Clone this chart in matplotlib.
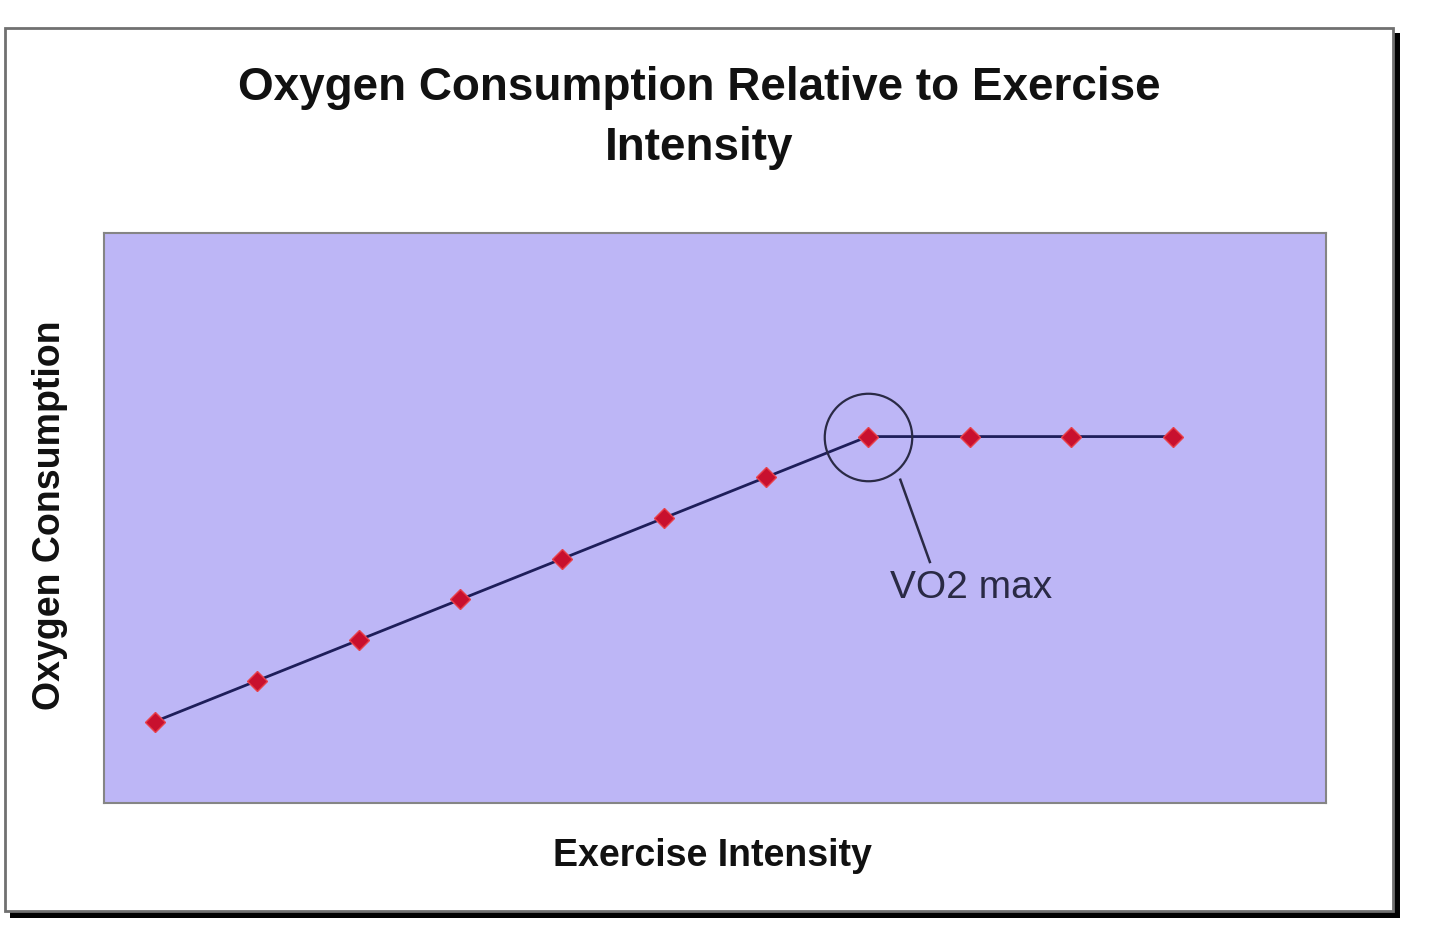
import matplotlib
matplotlib.use("Agg")
import matplotlib.pyplot as plt
from matplotlib.patches import Rectangle

# exercise intensity steps (category axis, 12 slots, 11 points)
intensity = [1, 2, 3, 4, 5, 6, 7, 8, 9, 10, 11]
oxygen = [10, 15, 20, 25, 30, 35, 40, 45, 45, 45, 45]
vo2_index = 7

title = "Oxygen Consumption Relative to Exercise\nIntensity"
xlabel = "Exercise Intensity"
ylabel = "Oxygen Consumption"

plt.rcParams["font.family"] = ["Liberation Sans", "DejaVu Sans"]

W, H = 1440, 944
fig = plt.figure(figsize=(W / 100, H / 100), dpi=100)


def px_rect(x0, y0, x1, y1, **kw):
    # rectangle given in pixel coords (origin top-left)
    return Rectangle((x0 / W, 1 - y1 / H), (x1 - x0) / W, (y1 - y0) / H,
                     transform=fig.transFigure, **kw)


# outer chart frame with drop shadow
fig.add_artist(px_rect(10, 33, 1400, 918, facecolor="black", edgecolor="none", zorder=0))
fig.add_artist(px_rect(5, 28, 1393, 911, facecolor="white", edgecolor="#707070", lw=2, zorder=1))

ax = fig.add_axes([104 / W, 1 - 803 / H, (1326 - 104) / W, (803 - 233) / H])
ax.set_zorder(2)
ax.set_facecolor("#BDB6F6")
for s in ax.spines.values():
    s.set_color("#858585")
    s.set_linewidth(1.5)
ax.set_xticks([])
ax.set_yticks([])
ax.set_xlim(0.5, 12.5)
ax.set_ylim(0, 70)

ax.plot(intensity, oxygen, color="#1E1E5A", lw=2, marker="D", ms=10,
        mfc="#C8102E", mec="#E8404A", mew=1, zorder=3)

# VO2 max callout
vx, vy = intensity[vo2_index], oxygen[vo2_index]
ax.plot([vx], [vy], marker="o", ms=63, mfc="none", mec="#2A2A45", mew=1.6, zorder=4)
ax.plot([8.32, 8.61], [39.7, 29.6], color="#2A2A45", lw=1.8, zorder=4)
ax.text(8.22, 26.4, "VO2 max", fontsize=28, color="#2A2A45", ha="left", va="center")

fig.text(0.4854, 0.875, title, ha="center", va="center", fontsize=33,
         fontweight="bold", linespacing=1.45, color="#111111")
fig.text(0.495, 0.093, xlabel, ha="center", va="center", fontsize=27,
         fontweight="bold", color="#111111")
fig.text(0.035, 0.4545, ylabel, ha="center", va="center", rotation=90,
         fontsize=27, fontweight="bold", color="#111111")

fig.savefig("out.png", dpi=100, facecolor="white")
